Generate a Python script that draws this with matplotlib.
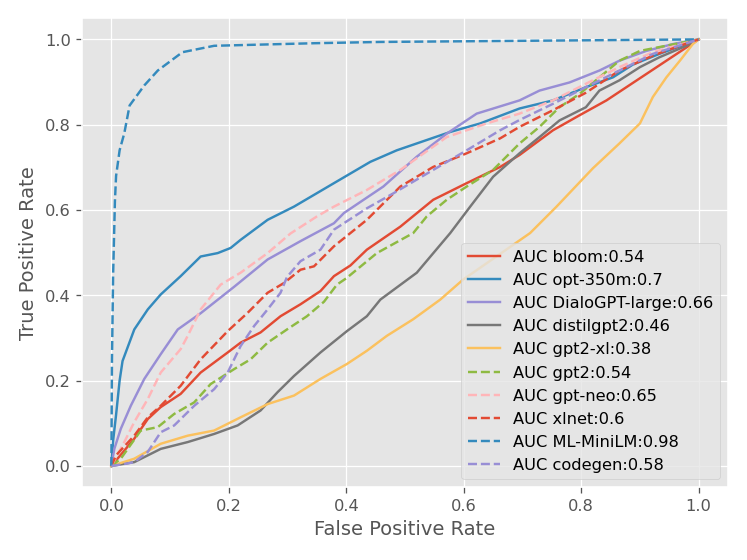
import matplotlib
matplotlib.use("Agg")
import matplotlib.pyplot as plt

plt.style.use("ggplot")

# courbes ROC (fpr, tpr)
bloom_fpr = [0, 0.008, 0.039, 0.062, 0.084, 0.118, 0.152, 0.198, 0.22, 0.254, 0.288, 0.322, 0.356, 0.379, 0.407,
             0.435, 0.492, 0.548, 0.605, 0.662, 0.695, 0.752, 0.797, 0.843, 0.877, 0.911, 0.945, 0.979, 1]
bloom_tpr = [0, 0.013, 0.064, 0.11, 0.138, 0.169, 0.219, 0.266, 0.289, 0.313, 0.351, 0.379, 0.41, 0.445, 0.47,
             0.507, 0.561, 0.624, 0.663, 0.701, 0.729, 0.787, 0.822, 0.857, 0.888, 0.919, 0.95, 0.981, 1]

opt_fpr = [0, 0.003, 0.008, 0.014, 0.019, 0.039, 0.062, 0.084, 0.118, 0.152, 0.181, 0.203, 0.22, 0.266, 0.311,
           0.379, 0.441, 0.486, 0.577, 0.628, 0.695, 0.752, 0.808, 0.854, 0.888, 0.933, 1]
opt_tpr = [0, 0.06, 0.12, 0.2, 0.246, 0.32, 0.367, 0.402, 0.445, 0.491, 0.499, 0.511, 0.53, 0.577, 0.608,
           0.663, 0.713, 0.74, 0.783, 0.803, 0.838, 0.857, 0.888, 0.911, 0.941, 0.966, 1]

dialo_fpr = [0, 0.005, 0.016, 0.033, 0.056, 0.084, 0.113, 0.152, 0.209, 0.266, 0.322, 0.379, 0.396, 0.463, 0.52,
             0.571, 0.622, 0.695, 0.729, 0.78, 0.831, 0.865, 0.911, 0.956, 1]
dialo_tpr = [0, 0.04, 0.087, 0.141, 0.204, 0.262, 0.32, 0.358, 0.42, 0.484, 0.527, 0.569, 0.593, 0.655, 0.725,
             0.779, 0.826, 0.857, 0.88, 0.899, 0.927, 0.95, 0.973, 0.989, 1]

distil_fpr = [0, 0.039, 0.084, 0.13, 0.175, 0.215, 0.254, 0.283, 0.311, 0.356, 0.401, 0.435, 0.458, 0.52, 0.577,
              0.611, 0.65, 0.695, 0.729, 0.763, 0.808, 0.831, 0.865, 0.9, 0.933, 0.979, 1]
distil_tpr = [0, 0.009, 0.04, 0.056, 0.075, 0.095, 0.13, 0.173, 0.211, 0.266, 0.316, 0.351, 0.39, 0.453, 0.546,
              0.608, 0.678, 0.733, 0.771, 0.81, 0.841, 0.88, 0.904, 0.935, 0.958, 0.985, 1]

xl_fpr = [0, 0.039, 0.084, 0.13, 0.175, 0.22, 0.266, 0.311, 0.356, 0.401, 0.435, 0.469, 0.514, 0.56, 0.599,
          0.713, 0.758, 0.82, 0.865, 0.9, 0.922, 0.945, 0.968, 0.99, 1]
xl_tpr = [0, 0.017, 0.052, 0.071, 0.083, 0.114, 0.145, 0.165, 0.204, 0.239, 0.27, 0.305, 0.344, 0.39, 0.437,
          0.546, 0.608, 0.698, 0.756, 0.803, 0.865, 0.911, 0.95, 0.989, 1]

gpt2_fpr = [0, 0.016, 0.05, 0.079, 0.107, 0.141, 0.169, 0.209, 0.237, 0.266, 0.299, 0.333, 0.362, 0.384, 0.40,
            0.452, 0.514, 0.537, 0.571, 0.605, 0.65, 0.695, 0.729, 0.763, 0.797, 0.831, 0.865, 0.9, 0.933, 1]
gpt2_tpr = [0, 0.017, 0.083, 0.091, 0.122, 0.149, 0.192, 0.227, 0.25, 0.289, 0.32, 0.351, 0.385, 0.425, 0.44,
            0.499, 0.546, 0.585, 0.624, 0.655, 0.694, 0.756, 0.795, 0.841, 0.872, 0.911, 0.95, 0.973, 0.982, 1]

neo_fpr = [0, 0.022, 0.039, 0.062, 0.084, 0.118, 0.13, 0.152, 0.186, 0.22, 0.266, 0.305, 0.35, 0.379, 0.435,
           0.492, 0.571, 0.639, 0.695, 0.752, 0.808, 0.865, 0.922, 1]
neo_tpr = [0, 0.056, 0.103, 0.157, 0.219, 0.274, 0.305, 0.367, 0.425, 0.453, 0.499, 0.545, 0.585, 0.608, 0.647,
           0.694, 0.771, 0.803, 0.826, 0.857, 0.896, 0.935, 0.97, 1]

xlnet_fpr = [0, 0.008, 0.039, 0.062, 0.084, 0.118, 0.152, 0.198, 0.232, 0.266, 0.294, 0.322, 0.345, 0.379, 0.435,
             0.492, 0.548, 0.605, 0.662, 0.695, 0.752, 0.808, 0.865, 0.922, 0.968, 1]
xlnet_tpr = [0, 0.025, 0.071, 0.114, 0.141, 0.188, 0.25, 0.316, 0.359, 0.406, 0.429, 0.46, 0.468, 0.515, 0.577,
             0.655, 0.701, 0.733, 0.768, 0.795, 0.834, 0.875, 0.927, 0.962, 0.985, 1]

mini_fpr = [0, 0.001, 0.003, 0.006, 0.008, 0.014, 0.022, 0.031, 0.056, 0.079, 0.121, 0.175, 0.345, 0.458, 0.82, 1]
mini_tpr = [0, 0.25, 0.45, 0.62, 0.68, 0.74, 0.78, 0.845, 0.892, 0.927, 0.97, 0.985, 0.991, 0.994, 0.998, 1]

codegen_fpr = [0, 0.02, 0.039, 0.062, 0.084, 0.107, 0.141, 0.175, 0.198, 0.22, 0.243, 0.266, 0.288, 0.299, 0.322,
               0.356, 0.379, 0.435, 0.48, 0.548, 0.605, 0.662, 0.695, 0.752, 0.808, 0.865, 0.922, 1]
codegen_tpr = [0, 0.004, 0.009, 0.033, 0.079, 0.095, 0.141, 0.18, 0.219, 0.281, 0.328, 0.367, 0.406, 0.443, 0.48,
               0.507, 0.554, 0.604, 0.639, 0.694, 0.74, 0.787, 0.811, 0.849, 0.888, 0.927, 0.966, 1]

noms = ["bloom", "opt-350m", "DialoGPT-large", "distilgpt2", "gpt2-xl",
        "gpt2", "gpt-neo", "xlnet", "ML-MiniLM", "codegen"]
aucs = [0.54, 0.7, 0.66, 0.46, 0.38, 0.54, 0.65, 0.6, 0.98, 0.58]
courbes = [(bloom_fpr, bloom_tpr), (opt_fpr, opt_tpr), (dialo_fpr, dialo_tpr),
           (distil_fpr, distil_tpr), (xl_fpr, xl_tpr), (gpt2_fpr, gpt2_tpr),
           (neo_fpr, neo_tpr), (xlnet_fpr, xlnet_tpr), (mini_fpr, mini_tpr),
           (codegen_fpr, codegen_tpr)]

fig = plt.figure(figsize=(6.4, 4.8), dpi=116.72)
ax = fig.add_axes([0.1098, 0.1298, 0.8648, 0.8375])

for i, (fpr, tpr) in enumerate(courbes):
    style = '-' if i < 5 else '--'
    ax.plot(fpr, tpr, style, label='AUC ' + noms[i] + ':' + str(aucs[i]))

ax.set_xlabel('False Positive Rate')
ax.set_ylabel('True Positive Rate')
ax.legend(loc='lower right')
plt.savefig('out.png', dpi=116.72)
